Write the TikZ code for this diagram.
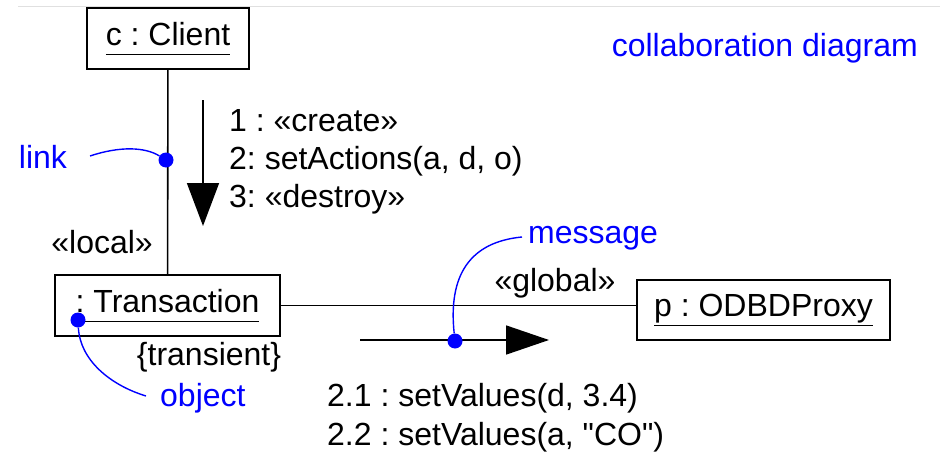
\documentclass[tikz,border=0pt]{standalone}
\usepackage{fontspec}
\setmainfont{Liberation Sans}
\usepackage{xcolor}
\usepackage{tikz}
\usetikzlibrary{arrows.meta,positioning}
\frenchspacing

\newcommand{\objname}[1]{\underline{\vphantom{p}#1}}

\begin{document}
\begin{tikzpicture}[
  x=1pt,y=-1pt,
  every node/.style={font=\fontsize{32}{38}\selectfont,inner sep=0pt},
  obj/.style={draw,line width=1.6pt,minimum height=61pt,align=center},
  lnk/.style={line width=1.6pt},
  msg/.style={line width=1.6pt,-{Triangle[length=43pt,width=32pt]}},
  note/.style={text=blue},
  lead/.style={blue,line width=1.4pt},
  dot/.style={circle,fill=blue,minimum size=15pt,inner sep=0pt}
]
\useasboundingbox (0,0) rectangle (940,452);
\draw[black!12,line width=1pt] (18,7) -- (940,7);

% objects
\node[obj,minimum width=162pt] (client) at (168,38.5) {\objname{c : Client}};
\node[obj,minimum width=225pt] (trans) at (167.5,305.5) {\objname{: Transaction}};
\node[obj,minimum width=253pt,minimum height=60pt] (proxy) at (763.5,310) {\objname{p : ODBDProxy}};

% links
\draw[lnk] (client) -- (trans);
\draw[lnk] (trans.east) -- (trans.east -| proxy.west);
\node[anchor=east] (local) at (153,242) {«local»};
\node (global) at (555,283) {«global»};
\node (transient) at (209,357) {\{transient\}};

% messages
\coordinate (m1a) at (203,100);
\coordinate (m1b) at (203,226);
\draw[msg] (m1a) -- (m1b);
\node[anchor=north west,align=left] (m1txt) at (229,109) {1 : «create»\\2: setActions(a, d, o)\\3: «destroy»};

\coordinate (m2a) at (360,340);
\coordinate (m2b) at (549,340);
\draw[msg,-{Triangle[length=43pt,width=29pt]}] (m2a) -- (m2b);
\node[anchor=north west,align=left,font=\fontsize{32}{39}\selectfont] (m2txt) at (327,383) {2.1 : setValues(d, 3.4)\\2.2 : setValues(a, \textquotedbl CO\textquotedbl)};

% annotations
\node[note,anchor=east] (colab) at (918,48) {collaboration diagram};

\node[note] (linklbl) at (43,157) {link};
\node[dot] (linkdot) at (166,160) {};
\draw[lead] (90,156) .. controls (120,146) and (145,147) .. (linkdot);

\node[note,anchor=west] (msglbl) at (528,238) {message};
\node[dot] (msgdot) at (455,341) {};
\draw[lead] (msgdot) .. controls (448,275) and (470,242) .. (522,237);

\node[note,anchor=west] (objlbl) at (160,398) {object};
\node[dot] (objdot) at (78,320) {};
\draw[lead] (objdot) .. controls (80,360) and (110,385) .. (146,396);
\end{tikzpicture}
\end{document}
